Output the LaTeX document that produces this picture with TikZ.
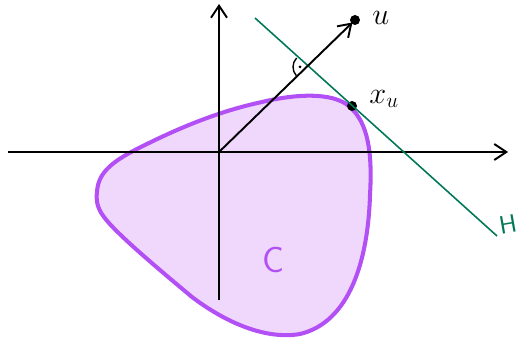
\documentclass[tikz,border=0pt]{standalone}
\usepackage{xcolor}
\usepackage{tikz}
\usetikzlibrary{arrows.meta,positioning}

\definecolor{hgreen}{RGB}{0,120,88}
\definecolor{cviolet}{RGB}{178,80,245}
\definecolor{cfill}{RGB}{240,216,253}

\begin{document}
\begin{tikzpicture}[
  x=0.02cm, y=-0.02cm,
  axis/.style={draw=black, line width=1.1pt, -{Straight Barb[length=2.4mm, width=3.2mm]}},
  hyper/.style={draw=hgreen, line width=0.9pt},
  body/.style={draw=cviolet, fill=cfill, line width=2.3pt},
  pt/.style={circle, fill=black, inner sep=0pt, minimum size=2mm},
  lbl/.style={font=\LARGE, inner sep=1pt},
]
\useasboundingbox (0,0) rectangle (519,340);

% Convex set C
\draw[body] (97,192) .. controls (98,174) and (110,163) .. (135,150)
  .. controls (180,127) and (220,111) .. (262,102)
  .. controls (300,93) and (338,92) .. (353,110)
  .. controls (370,128) and (372,160) .. (370,195)
  .. controls (368,260) and (350,322) .. (300,334)
  .. controls (265,340) and (225,322) .. (192,297)
  .. controls (150,262) and (115,232) .. (104,217)
  .. controls (97,208) and (96,200) .. (97,192) -- cycle;
\node[lbl, text=cviolet, font=\huge\sffamily] (C) at (273,260) {C};

% Axes
\coordinate (O) at (219,152);
\coordinate (xl) at (8,152);
\coordinate (xr) at (508,152);
\coordinate (yb) at (219,300);
\coordinate (yt) at (219,4);
\draw[axis] (xl) -- (xr);
\draw[axis] (yb) -- (yt);

% Direction u and supporting hyperplane H
\node[pt] (u) at (355,20) {};
\node[pt] (xu) at (352,106) {};
\coordinate (h1) at (255,18);
\coordinate (h2) at (497,236);
\draw[hyper] (h1) -- (h2);
\draw[axis, shorten >=-1pt] (O) -- (u);

% Labels
\node[lbl, right=0.2cm of u, yshift=1pt] (ulbl) {$u$};
\node[lbl, right=0.2cm of xu, yshift=4pt] (xulbl) {$x_u$};
\node[lbl, text=hgreen, font=\Large\sffamily, rotate=10] (Hlbl) at (508,224) {H};

% Right-angle mark
\coordinate (I) at (306,67);
\draw[line width=0.8pt] ([shift={(138:13)}]I) arc[start angle=138, end angle=224, radius=13];
\fill ([shift={(181:6)}]I) circle (0.9pt);

\end{tikzpicture}
\end{document}
